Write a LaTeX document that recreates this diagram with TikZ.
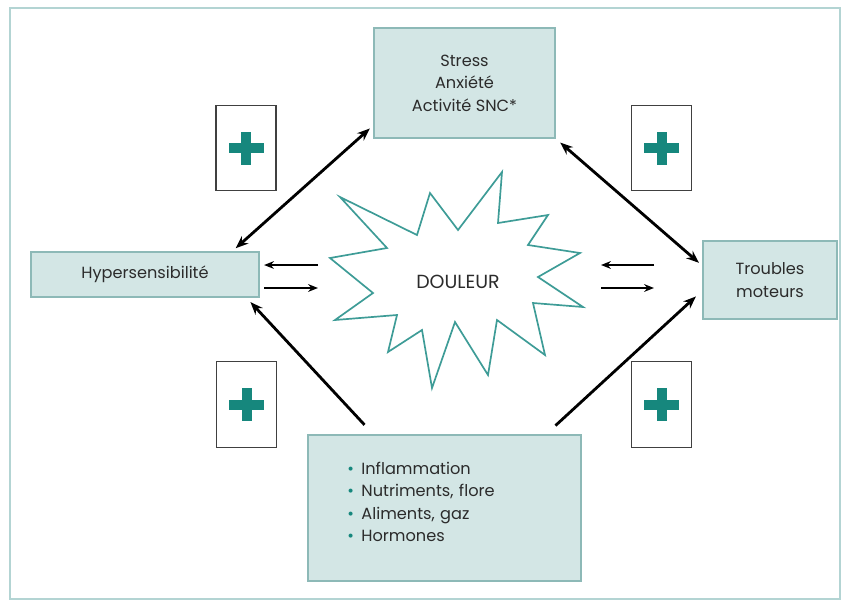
\documentclass[tikz,border=0pt]{standalone}
\usepackage{fontspec}
\setmainfont{Poppins}
\usetikzlibrary{arrows.meta}

\definecolor{boxfill}{HTML}{D3E6E5}
\definecolor{boxline}{HTML}{8DB9B7}
\definecolor{framecol}{HTML}{B3D4D3}
\definecolor{starcol}{HTML}{3E9C97}
\definecolor{pluscol}{HTML}{16877D}
\definecolor{textcol}{HTML}{2B2B2B}

\tikzset{
  factor/.style={draw=boxline, fill=boxfill, line width=1.2pt, text=textcol, font=\fontsize{11.5}{16}\selectfont, align=center, inner sep=0pt},
  plusbox/.style={draw=black!75, line width=0.8pt, minimum width=1.5cm, minimum height=2.13cm, inner sep=0pt},
  bigarrow/.style={line width=2pt, -{Stealth[length=9pt,width=7pt]}},
  dblarrow/.style={line width=2pt, {Stealth[length=9pt,width=7pt]}-{Stealth[length=9pt,width=7pt]}},
  smallarrow/.style={line width=1.4pt, -{Stealth[length=7pt,width=5.5pt]}},
}
\newcommand{\plussign}[1]{%
  \fill[pluscol] (#1) +(-17.5,-5) rectangle +(17.5,5);
  \fill[pluscol] (#1) +(-5,-16.5) rectangle +(5,16.5);}
\newcommand{\puce}{\textcolor{pluscol}{\textbullet}\hspace{0.45em}}

\begin{document}
\begin{tikzpicture}[x=0.025cm, y=-0.025cm]
\useasboundingbox (0,0) rectangle (848,601);
\draw[framecol, line width=1.5pt] (10,8) rectangle (840,599);

% the four boxes
\node[factor, minimum width=4.53cm, minimum height=2.75cm] (stress) at (464.5,83) {Stress\\Anxiété\\Activité SNC*};
\node[factor, minimum width=5.7cm, minimum height=1.13cm] (hyper) at (145,274.5) {Hypersensibilité};
\node[factor, minimum width=3.35cm, minimum height=1.95cm] (troubles) at (770,280) {Troubles\\moteurs};
\node[factor, minimum width=6.83cm, minimum height=3.65cm, text width=4.85cm, align=left, inner xsep=0.49cm] (facteurs) at (444.5,508)
  {\puce Inflammation\\\puce Nutriments, flore\\\puce Aliments, gaz\\\puce Hormones\\[-7pt]\mbox{}};

% star
\draw[starcol, line width=1.2pt, fill=white] (340,197) -- (417,235) -- (430,193) -- (458,230) -- (502,172) -- (498,223)
  -- (548,215) -- (528,245) -- (580,253) -- (538,277) -- (583,307) -- (533,303) -- (545,355) -- (497,320)
  -- (488,375) -- (455,322) -- (432,388) -- (422,330) -- (388,352) -- (397,315) -- (335,320) -- (373,293)
  -- (330,258) -- (387,248) -- cycle;
\node[text=textcol, font=\fontsize{13.5}{16}\selectfont] (douleur) at (458,282) {DOULEUR};

% plus boxes
\node[plusbox] (plusA) at (246,148) {};
\node[plusbox] (plusB) at (661.5,148) {};
\node[plusbox] (plusC) at (246.5,404.5) {};
\node[plusbox] (plusD) at (661.5,404.5) {};
\plussign{plusA}
\plussign{plusB}
\plussign{plusC}
\plussign{plusD}

% long arrows
\draw[dblarrow, shorten <=3pt, shorten >=3pt] (stress.205) -- (hyper.15);
\draw[dblarrow, shorten <=4pt, shorten >=3pt] (stress.south east) -- (troubles.168);
\draw[bigarrow, shorten <=9pt, shorten >=4pt] (facteurs.134) -- (hyper.-13);
\draw[bigarrow, shorten <=9pt, shorten >=6pt] (facteurs.36) -- (troubles.189);

% short arrows
\coordinate (lin) at (318,265);
\coordinate (lout) at (318,288);
\draw[smallarrow, shorten >=3pt] (lin) -- (lin -| hyper.east);
\draw[smallarrow, shorten <=3pt] (lout -| hyper.east) -- (lout);
\coordinate (rinA) at (654,265);
\coordinate (rinB) at (601,265);
\coordinate (routA) at (601,288);
\coordinate (routB) at (654,288);
\draw[smallarrow] (rinA) -- (rinB);
\draw[smallarrow] (routA) -- (routB);
\end{tikzpicture}
\end{document}
